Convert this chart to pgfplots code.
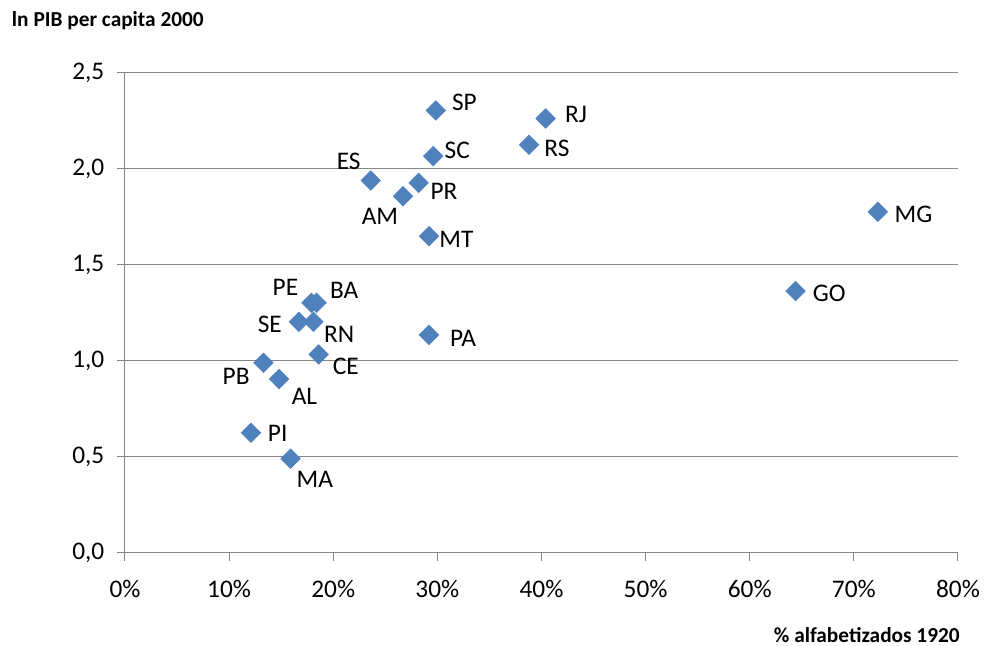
\documentclass[border=0pt]{standalone}
\usepackage{pgfplots}
\pgfplotsset{compat=1.18}
\usepackage{pgfplotstable}
\usepackage{fontspec}
\setmainfont{Carlito}
\definecolor{mk}{HTML}{4F81BD}
\definecolor{gr}{HTML}{868686}

\pgfplotstableread{
x y lab dx dy
29.85 2.305 SP 21.5 6.2
29.6 2.067 SC 18 4.5
23.6 1.940 ES -16.5 14.5
28.2 1.928 PR 19 -6.3
26.7 1.858 AM -17.3 -15
29.2 1.650 MT 20.5 -2.5
17.9 1.303 PE -19.5 11.3
18.4 1.303 BA 20.7 9.5
16.7 1.204 SE -21.8 -2
18.1 1.204 RN 19.3 -9.5
29.2 1.136 PA 25.5 -2.3
18.6 1.034 CE 20.3 -9.2
13.3 0.991 PB -20.5 -10.5
14.8 0.906 AL 19 -13.3
12.1 0.626 PI 20 -0.5
15.9 0.491 MA 18.2 -15.5
40.4 2.263 RJ 22.8 3
38.8 2.126 RS 21 -2.8
72.3 1.777 MG 26.7 -2
64.4 1.364 GO 25.3 -2
}\data

\begin{document}
\begin{tikzpicture}
\path[use as bounding box] (0,0) rectangle (739.5pt,484.5pt);
\begin{axis}[
 at={(93.75pt,69.75pt)}, anchor=south west,
 scale only axis, width=624.75pt, height=360pt,
 xmin=0, xmax=80, ymin=0, ymax=2.5,
 axis lines=left, axis line style={-, gr, line width=0.75pt},
 xtick={0,10,20,30,40,50,60,70,80}, ytick={0,0.5,1,1.5,2,2.5},
 tick align=outside, major tick length=6pt, tick style={gr, line width=0.75pt},
 ymajorgrids, grid style={gr, line width=0.75pt},
 ticklabel style={font=\fontsize{19}{22}\selectfont, text=black},
 xticklabel style={yshift=-11pt},
 /pgf/number format/assume math mode=true,
 yticklabel style={xshift=-6pt, /pgf/number format/.cd, fixed, fixed zerofill, precision=1, use comma},
 xticklabel={\pgfmathprintnumber{\tick}\%},
 clip=false,
]
\addplot[only marks, mark=square*, mark size=5.2pt, mark options={rotate=45, fill=mk, draw=mk},
  nodes near coords, point meta=explicit symbolic,
  visualization depends on={\thisrow{dx} \as \ldx},
  visualization depends on={\thisrow{dy} \as \ldy},
  nodes near coords style={anchor=center, xshift=\ldx pt, yshift=\ldy pt, text=black, inner sep=0pt, font=\fontsize{19}{22}\selectfont}
] table[x=x, y=y, meta=lab]{\data};
\end{axis}
\node[anchor=west, inner sep=0pt, font=\bfseries\fontsize{16}{19}\selectfont] at (8.8pt,469pt) {ln PIB per capita 2000};
\node[anchor=east, inner sep=0pt, font=\bfseries\fontsize{16}{19}\selectfont] at (720pt,8.25pt) {\% alfabetizados 1920};
\end{tikzpicture}
\end{document}
